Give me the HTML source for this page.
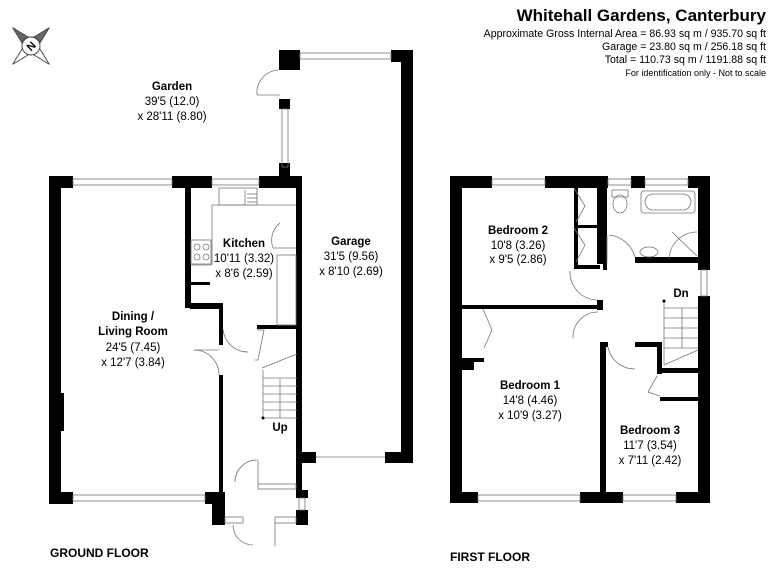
<!DOCTYPE html>
<html><head><meta charset="utf-8"><style>
html,body{margin:0;padding:0;background:#fff;}
svg{display:block;}
text{font-family:"Liberation Sans",Arial,sans-serif;fill:#000;}
.b{font-weight:bold;}
</style></head><body>
<svg width="768" height="576" viewBox="0 0 768 576" xmlns="http://www.w3.org/2000/svg">
<!-- header -->
<text x="766" y="21" text-anchor="end" class="b" font-size="17">Whitehall Gardens, Canterbury</text>
<text x="766" y="37" text-anchor="end" font-size="10.6">Approximate Gross Internal Area = 86.93 sq m / 935.70 sq ft</text>
<text x="766" y="50" text-anchor="end" font-size="10.6">Garage = 23.80 sq m / 256.18 sq ft</text>
<text x="766" y="63" text-anchor="end" font-size="10.6">Total = 110.73 sq m / 1191.88 sq ft</text>
<text x="766" y="76" text-anchor="end" font-size="9">For identification only - Not to scale</text>
<!-- compass -->
<g transform="translate(31,46) rotate(-45)" fill="none" stroke="#444" stroke-width="0.9">
<polygon points="0,-26 5,-5 0,0 -5,-5" fill="#666"/>
<polygon points="0,26 5,5 0,0 -5,5" fill="#fff"/>
<polygon points="-26,0 -5,-5 0,0 -5,5" fill="#fff"/>
<polygon points="26,0 5,-5 0,0 5,5" fill="#666"/>
<circle r="9" fill="#fff" stroke="#333"/>
</g>
<text x="31" y="50" text-anchor="middle" class="b" font-size="11" transform="rotate(-45 31 46)">N</text>

<g fill="#000">
<!-- GROUND FLOOR walls -->
<rect x="49" y="176" width="12" height="328"/>
<rect x="49" y="393" width="15" height="38"/>
<rect x="49" y="176" width="24" height="12"/>
<rect x="172" y="176" width="40" height="12"/>
<rect x="259" y="176" width="43" height="12"/>
<rect x="279" y="163" width="11" height="20"/>
<rect x="290" y="176" width="12" height="10"/>
<rect x="296" y="186" width="6" height="304"/>
<rect x="185" y="188" width="6" height="119"/>
<rect x="185" y="303" width="38" height="5"/>
<rect x="219" y="303" width="4" height="42"/>
<rect x="219" y="375" width="4" height="118"/>
<rect x="49" y="492" width="24" height="12"/>
<rect x="205" y="492" width="20" height="12"/>
<rect x="212" y="504" width="13" height="21"/>
<rect x="296" y="452" width="20" height="11"/>
<rect x="296" y="490" width="12" height="8"/>
<rect x="296" y="510" width="12" height="15"/>
<rect x="257" y="325" width="40" height="4"/>
<rect x="190" y="282" width="20" height="3"/>
<rect x="190" y="305" width="30" height="4"/>
<!-- garage -->
<rect x="279" y="50" width="21" height="20"/>
<rect x="391" y="50" width="22" height="12"/>
<rect x="401" y="50" width="12" height="413"/>
<rect x="385" y="452" width="28" height="11"/>
<rect x="279" y="99" width="11" height="10"/>
<rect x="279" y="167" width="11" height="10"/>
<!-- FIRST FLOOR walls -->
<rect x="450" y="176" width="12" height="327"/>
<rect x="450" y="176" width="42" height="12"/>
<rect x="545" y="176" width="63" height="12"/>
<rect x="631" y="176" width="14" height="12"/>
<rect x="688" y="176" width="22" height="12"/>
<rect x="698" y="176" width="12" height="94"/>
<rect x="698" y="296" width="12" height="207"/>
<rect x="450" y="492" width="28" height="11"/>
<rect x="580" y="492" width="43" height="11"/>
<rect x="676" y="492" width="34" height="11"/>
<rect x="462" y="305" width="140" height="4"/>
<rect x="597" y="188" width="6" height="76"/>
<rect x="603" y="188" width="4" height="82"/>
<rect x="635" y="257" width="65" height="6"/>
<rect x="597" y="300" width="6" height="10"/>
<rect x="600" y="342" width="6" height="161"/>
<rect x="600" y="342" width="8" height="5"/>
<rect x="635" y="342" width="27" height="5"/>
<rect x="657" y="342" width="5" height="32"/>
<rect x="657" y="368" width="41" height="5"/>
<rect x="660" y="397" width="38" height="4"/>
<rect x="574" y="188" width="4" height="80"/>
<rect x="574" y="225" width="23" height="3"/>
<rect x="574" y="265" width="26" height="4"/>
<rect x="462" y="360" width="12" height="10"/>
<rect x="462" y="358" width="22" height="4"/>
</g>

<g fill="none" stroke="#777" stroke-width="0.8">
<rect x="73" y="179" width="99" height="6"/>
<rect x="212" y="179" width="47" height="6"/>
<rect x="73" y="495" width="132" height="6"/>
<rect x="300" y="53" width="91" height="6"/>
<rect x="282" y="109" width="6" height="58"/>
<line x1="316" y1="457" x2="385" y2="457"/>
<rect x="299" y="498" width="6" height="12"/>
<rect x="225" y="517" width="18" height="6"/>
<rect x="275" y="517" width="21" height="6"/>
<rect x="258" y="484" width="38" height="5"/>
<rect x="219" y="188" width="38" height="17"/>
<line x1="212" y1="205" x2="296" y2="205"/>
<line x1="212" y1="205" x2="212" y2="265"/>
<line x1="191" y1="265" x2="212" y2="265"/>
<rect x="191" y="240" width="20" height="24"/>
<circle cx="197" cy="247" r="3"/><circle cx="206" cy="247" r="3"/>
<circle cx="197" cy="257" r="3"/><circle cx="206" cy="257" r="3"/>
<rect x="277" y="255" width="19" height="70"/>
<line x1="245" y1="190" x2="245" y2="205"/>
<line x1="247" y1="194" x2="257" y2="194"/><line x1="247" y1="198" x2="257" y2="198"/><line x1="247" y1="202" x2="257" y2="202"/>
<path d="M280,223 A22,22 0 0 0 273,248"/><line x1="273" y1="248" x2="296" y2="248"/>
<path d="M223,329 A25,25 0 0 0 248,352"/>
<path d="M194,350 A25,25 0 0 1 219,375"/><line x1="194" y1="350" x2="219" y2="350"/>
<path d="M257,460 A22,22 0 0 0 235,482"/><line x1="258" y1="460" x2="258" y2="484"/>
<path d="M253,545 A20,20 0 0 1 233,525"/><line x1="275" y1="523" x2="275" y2="546"/>
<path d="M278,70 A23,23 0 0 0 257,95"/><line x1="257" y1="95" x2="280" y2="95"/>
<line x1="262" y1="368" x2="297" y2="354"/>
<line x1="263" y1="370" x2="263" y2="418"/>
<line x1="263" y1="418" x2="297" y2="418"/>
<line x1="263" y1="378" x2="297" y2="378"/><line x1="263" y1="386" x2="297" y2="386"/>
<line x1="263" y1="394" x2="297" y2="394"/><line x1="263" y1="402" x2="297" y2="402"/><line x1="263" y1="410" x2="297" y2="410"/>
<line x1="280" y1="418" x2="280" y2="379"/>
<polyline points="257,330 264,330 258,360 255,360"/>
<rect x="492" y="179" width="53" height="6"/>
<rect x="608" y="179" width="23" height="6"/>
<rect x="645" y="179" width="43" height="6"/>
<rect x="701" y="270" width="6" height="26"/>
<rect x="478" y="495" width="102" height="6"/>
<rect x="623" y="495" width="53" height="6"/>
<rect x="641" y="191" width="54" height="22" rx="3"/>
<rect x="645" y="194" width="46" height="16" rx="8"/>
<rect x="612" y="190" width="16" height="7"/>
<ellipse cx="620" cy="204" rx="7" ry="9"/>
<ellipse cx="649" cy="252" rx="9" ry="5"/>
<path d="M697,232 A28,28 0 0 0 669,258"/><line x1="672" y1="232" x2="697" y2="256"/>
<path d="M609,235 A30,30 0 0 1 635,257"/><line x1="607" y1="235" x2="607" y2="263"/>
<path d="M570,271 A28,28 0 0 0 597,300"/>
<path d="M598,312 A25,25 0 0 0 573,338"/>
<path d="M608,347 A27,27 0 0 0 635,369"/>
<polyline points="574,188 585,206 576,222"/><polyline points="574,228 585,245 576,262"/>
<polyline points="483,309 492,330 484,348"/>
<polyline points="657,376 648,392 660,396"/>
<line x1="664" y1="301" x2="664" y2="365"/>
<line x1="664" y1="308" x2="698" y2="308"/><line x1="664" y1="318" x2="698" y2="318"/>
<line x1="664" y1="328" x2="698" y2="328"/><line x1="664" y1="338" x2="698" y2="338"/>
<line x1="664" y1="348" x2="698" y2="348"/><line x1="664" y1="365" x2="698" y2="350"/>
<line x1="682" y1="308" x2="682" y2="348"/>
</g>
<circle cx="263" cy="418" r="1.5"/><circle cx="664" cy="301" r="1.5"/>

<g font-size="11.5" text-anchor="middle">
<text x="172" y="90" class="b">Garden</text>
<text x="172" y="105">39'5 (12.0)</text>
<text x="172" y="120">x 28'11 (8.80)</text>
<text x="133" y="320" class="b">Dining /</text>
<text x="133" y="335" class="b">Living Room</text>
<text x="133" y="351">24'5 (7.45)</text>
<text x="133" y="366">x 12'7 (3.84)</text>
<text x="244" y="247" class="b">Kitchen</text>
<text x="244" y="262">10'11 (3.32)</text>
<text x="244" y="277">x 8'6 (2.59)</text>
<text x="351" y="245" class="b">Garage</text>
<text x="351" y="260">31'5 (9.56)</text>
<text x="351" y="275">x 8'10 (2.69)</text>
<text x="280" y="431" class="b">Up</text>
<text x="518" y="234" class="b">Bedroom 2</text>
<text x="518" y="249">10'8 (3.26)</text>
<text x="518" y="263">x 9'5 (2.86)</text>
<text x="530" y="389" class="b">Bedroom 1</text>
<text x="530" y="404">14'8 (4.46)</text>
<text x="530" y="419">x 10'9 (3.27)</text>
<text x="650" y="434" class="b">Bedroom 3</text>
<text x="650" y="449">11'7 (3.54)</text>
<text x="650" y="464">x 7'11 (2.42)</text>
<text x="681" y="297" class="b">Dn</text>
</g>
<text x="50" y="557" class="b" font-size="12">GROUND FLOOR</text>
<text x="450" y="561" class="b" font-size="12">FIRST FLOOR</text>
</svg>
</body></html>
